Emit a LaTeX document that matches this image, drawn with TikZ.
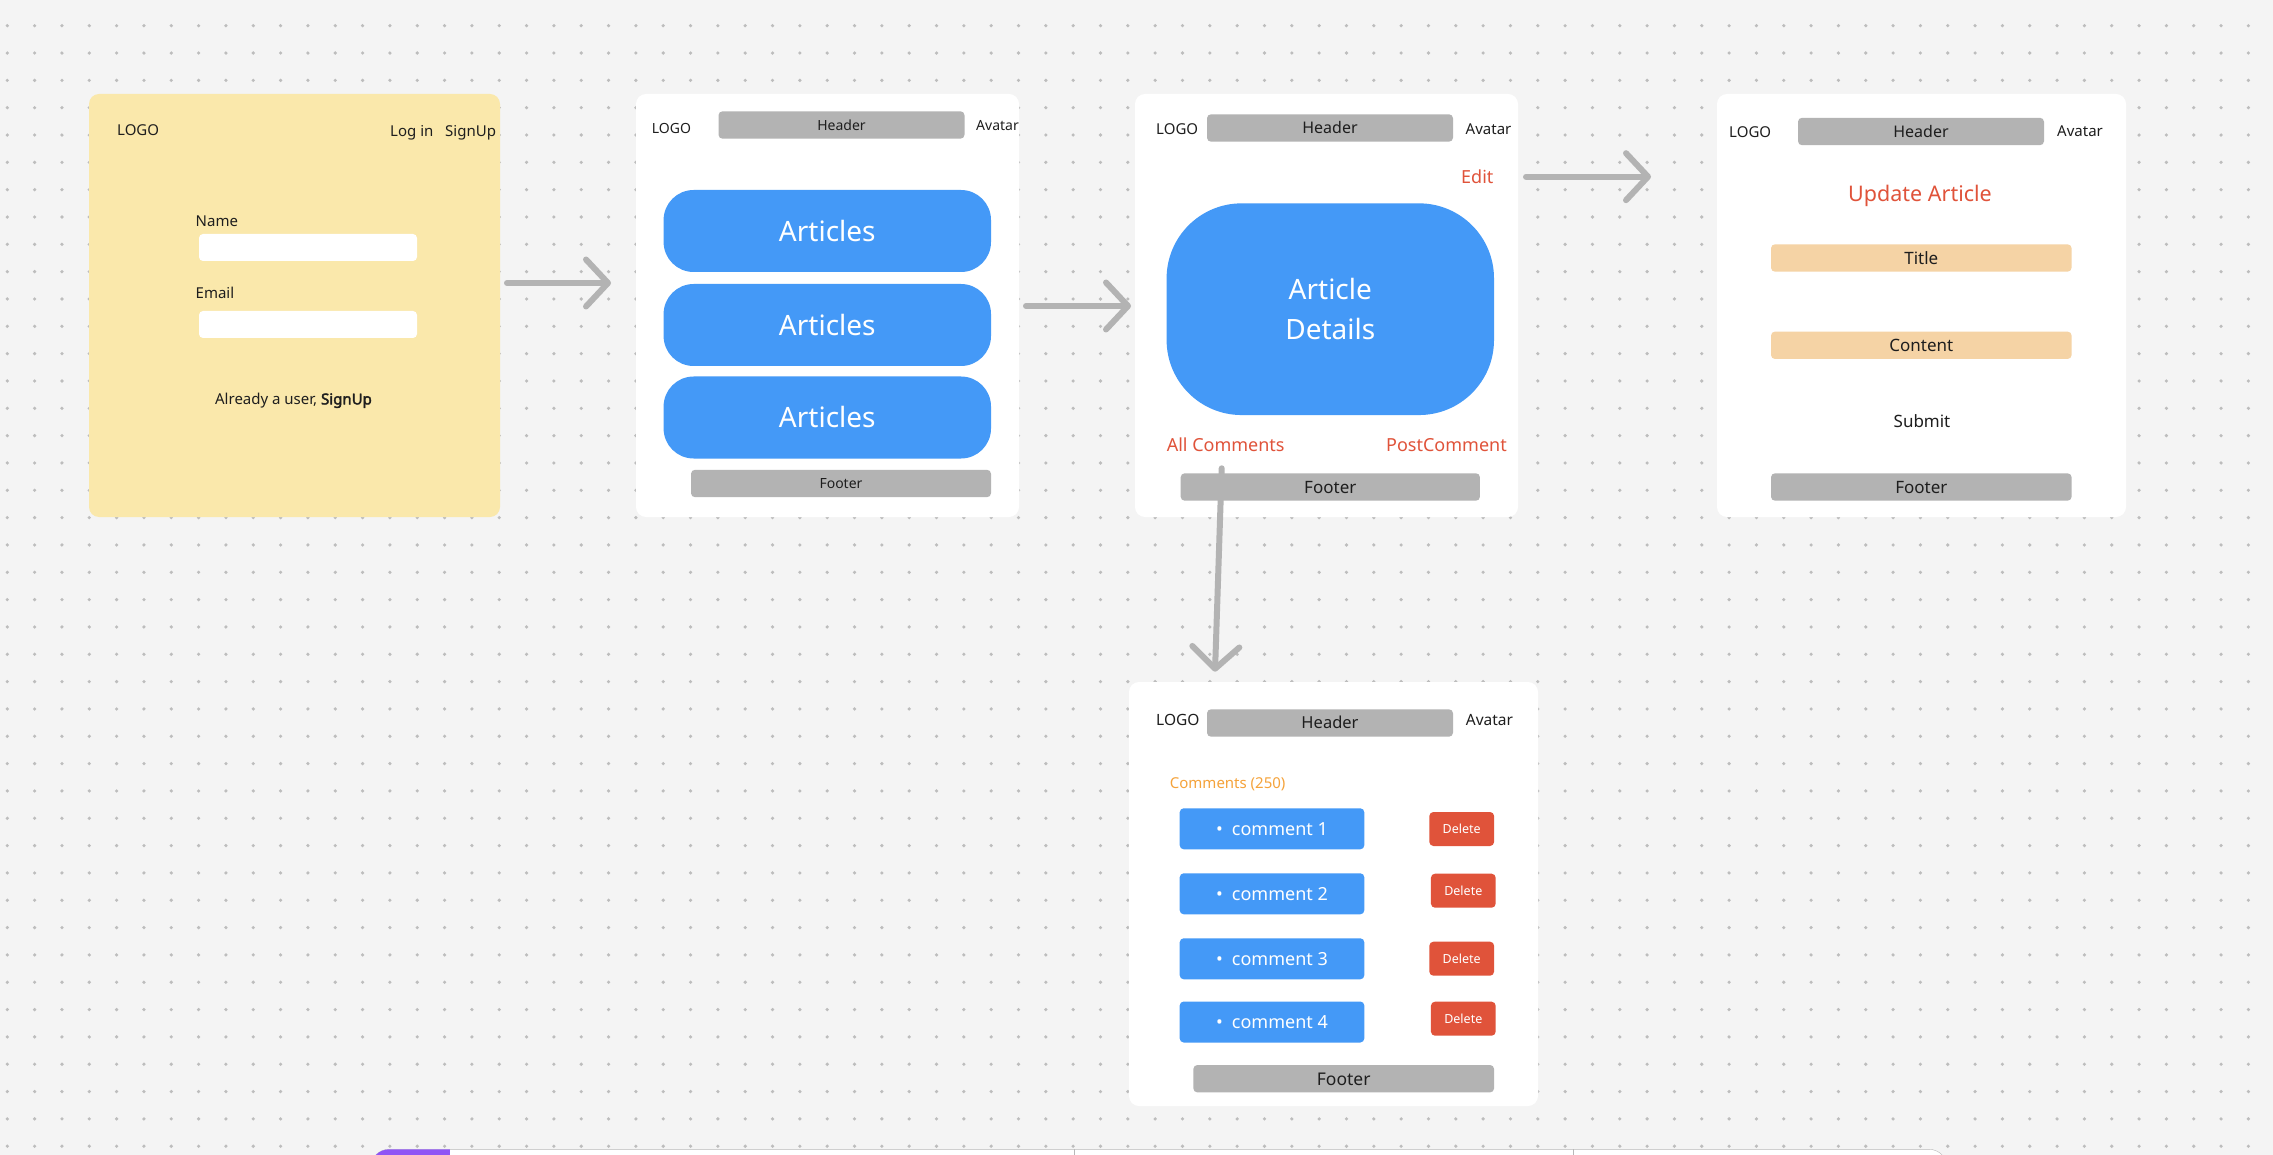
\documentclass[tikz,border=0pt]{standalone}
\usepackage{fontspec}
\setmainfont{Noto Sans}
\newfontfamily\heavy{Noto Sans}[FakeBold=2.5]
\usetikzlibrary{arrows.meta}

\definecolor{canvas}{HTML}{F4F4F4}
\definecolor{dotc}{HTML}{BDBDBD}
\definecolor{sticky}{HTML}{FAE8AB}
\definecolor{barc}{HTML}{B3B3B3}
\definecolor{blu}{HTML}{4499F7}
\definecolor{redc}{HTML}{E0533A}
\definecolor{orng}{HTML}{F5A33B}
\definecolor{sand}{HTML}{F5D3A5}
\definecolor{ink}{HTML}{1E1E1E}
\definecolor{purp}{HTML}{8F54F5}
\definecolor{edge}{HTML}{B8B8B8}

\tikzset{
  every node/.style={inner sep=0pt, text=ink},
  txt/.style={font={\fontsize{#1}{#1}\selectfont}, text depth=0pt, text height={0.72*#1pt}},
  panel/.style={fill=white, rounded corners=10pt, minimum width=#1, minimum height=423pt},
  graybar/.style={fill=barc, rounded corners=4pt, minimum width=#1, minimum height=27.4pt},
  field/.style={fill=white, rounded corners=4pt, minimum width=218pt, minimum height=27pt},
  sandbar/.style={fill=sand, rounded corners=4pt, minimum width=300.6pt, minimum height=27.4pt},
  pill/.style={fill=blu, rounded corners=30pt, minimum width=327.4pt, minimum height=82pt, txt=28, text=white},
  cbox/.style={fill=blu, rounded corners=4pt, minimum width=184.6pt, minimum height=41pt, txt=18, text=white},
  delbtn/.style={fill=redc, rounded corners=4pt, minimum width=64.7pt, minimum height=34pt, txt=12.5, text=white},
  flow/.style={draw=barc, line width=6pt, line cap=round, -{Straight Barb[length=22pt,width=47pt,round]}}
}

\begin{document}
\begin{tikzpicture}[x=1pt,y=-1pt]
\useasboundingbox (0,0) rectangle (2273,1155);
\clip (0,0) rectangle (2273,1155);
\fill[canvas] (0,0) rectangle (2273,1155);
\foreach \i in {0,...,82}
  \foreach \j in {0,...,41}
    \fill[dotc] (7.3+27.33*\i,25.7+27.33*\j) circle (1.8pt);

% sign up
\node[panel=411pt, fill=sticky] (signup) at (294.5,305.5) {};
\node[txt=15, anchor=west] (logoA) at (117,130) {LOGO};
\node[txt=15, anchor=west] (loginlink) at (390,130.7) {Log in};
\node[txt=15, anchor=west] (signuplink) at (445,130.7) {SignUp};
\node[txt=15, anchor=west] (namelbl) at (195.5,221) {Name};
\node[field] (namefield) at (308,247.5) {};
\node[txt=15, anchor=west] (emaillbl) at (195.5,292.7) {Email};
\node[field] (emailfield) at (308,324.5) {};
\node[txt=15] (already) at (293.5,399) {Already a user, {\heavy SignUp}};

% articles
\node[panel=383pt] (list) at (827.5,305.5) {};
\node[txt=14, anchor=west] (logoB) at (651.6,128) {LOGO};
\node[graybar=246pt, txt=14] (headB) at (841.5,125) {Header};
\node[txt=14, anchor=west] (avatarB) at (976,125.7) {Avatar};
\node[pill] (artA) at (827.3,231) {Articles};
\node[pill] (artB) at (827.3,325) {Articles};
\node[pill] (artC) at (827.3,417.5) {Articles};
\node[graybar=300pt, txt=14] (footB) at (841,483.5) {Footer};

% details
\node[panel=383pt] (detail) at (1326.5,305.5) {};
\node[txt=15, anchor=west] (logoC) at (1156,128.7) {LOGO};
\node[graybar=246pt, txt=16] (headC) at (1330,128) {Header};
\node[txt=15, anchor=west] (avatarC) at (1465.5,129) {Avatar};
\node[txt=18, anchor=west, text=redc] (edit) at (1461,176.7) {Edit};
\node[fill=blu, rounded corners=75pt, minimum width=327.4pt, minimum height=211.7pt,
  font={\fontsize{28}{40}\selectfont}, align=center, text=white] (body) at (1330.3,309.2) {Article\\Details};
\node[txt=18, anchor=west, text=redc] (allcom) at (1166.6,445) {All Comments};
\node[txt=18, anchor=east, text=redc] (postcom) at (1507,445) {PostComment};
\node[graybar=299.3pt, txt=17] (footC) at (1330.3,487) {Footer};

% update
\node[panel=409pt] (update) at (1921.5,305.5) {};
\node[txt=15, anchor=west] (logoD) at (1729,131.7) {LOGO};
\node[graybar=246pt, txt=16] (headD) at (1921,131.5) {Header};
\node[txt=15, anchor=west] (avatarD) at (2057,130.7) {Avatar};
\node[txt=21.5, text=redc] (updtitle) at (1920,194) {Update Article};
\node[sandbar, txt=17] (titlebar) at (1921.3,258) {Title};
\node[sandbar, txt=17] (contentbar) at (1921.3,345.3) {Content};
\node[txt=17] (submit) at (1922,421.7) {Submit};
\node[graybar=300.6pt, txt=17] (footD) at (1921.3,487) {Footer};

% comments
\node[panel=409pt, minimum height=424pt] (comments) at (1333.5,894) {};
\node[txt=15.5, anchor=west] (logoE) at (1156,720) {LOGO};
\node[graybar=246pt, txt=16.5] (headE) at (1330,723) {Header};
\node[txt=15.5, anchor=west] (avatarE) at (1465.7,720) {Avatar};
\node[txt=15, anchor=west, text=orng] (count) at (1169.7,783.3) {Comments (250)};
\node[cbox] (comA) at (1272,828.8) {\textbullet\hspace{9pt}comment 1};
\node[cbox] (comB) at (1272,893.8) {\textbullet\hspace{9pt}comment 2};
\node[cbox] (comC) at (1272,958.8) {\textbullet\hspace{9pt}comment 3};
\node[cbox] (comD) at (1272,1022) {\textbullet\hspace{9pt}comment 4};
\node[delbtn] (delA) at (1461.7,829) {Delete};
\node[delbtn] (delB) at (1463.3,890.7) {Delete};
\node[delbtn] (delC) at (1461.7,958.7) {Delete};
\node[delbtn] (delD) at (1463.3,1018.7) {Delete};
\node[graybar=300.7pt, txt=17.5] (footE) at (1343.7,1078.7) {Footer};

% arrows
\coordinate (s1) at (507,283);
\coordinate (e1) at (611,283);
\coordinate (s2) at (1026,306);
\coordinate (e2) at (1131,306);
\coordinate (s3) at (1526,176.7);
\coordinate (e3) at (1651,176.7);
\coordinate (s4) at (1221.7,468.3);
\coordinate (e4) at (1215,671.7);
\draw[flow] (s1) -- (e1);
\draw[flow] (s2) -- (e2);
\draw[flow] (s3) -- (e3);
\draw[flow] (s4) -- (e4);

% toolbar
\filldraw[fill=white, draw=edge, rounded corners=18pt] (371,1149.3) rectangle (1947,1200);
\begin{scope}
\clip[rounded corners=18pt] (371,1149.3) rectangle (1947,1200);
\fill[purp] (371,1149.3) rectangle (450,1200);
\end{scope}
\draw[edge] (1074,1149.3) -- (1074,1155);
\draw[edge] (1573,1149.3) -- (1573,1155);
\end{tikzpicture}
\end{document}
